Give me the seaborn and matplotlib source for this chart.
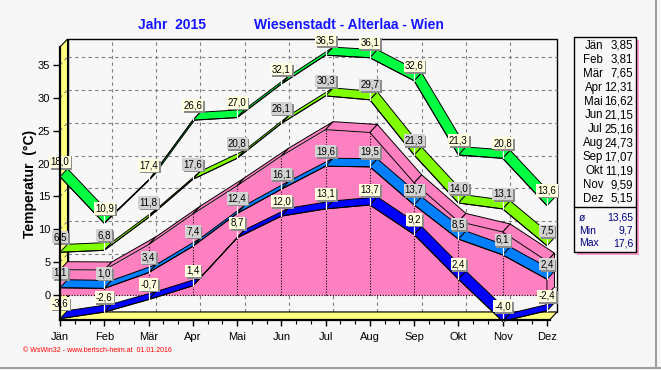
import numpy as np
import pandas as pd
import matplotlib
matplotlib.use('Agg')
import matplotlib.pyplot as plt
import matplotlib.transforms as mtransforms
import matplotlib.patheffects as pe
from matplotlib.patches import Polygon, Rectangle
from matplotlib.lines import Line2D
import seaborn as sns

# ---------------- data ----------------
months = ['Jän', 'Feb', 'Mär', 'Apr', 'Mai', 'Jun', 'Jul', 'Aug', 'Sep', 'Okt', 'Nov', 'Dez']
abs_max = [18.0, 10.9, 17.4, 26.6, 27.0, 32.1, 36.5, 36.1, 32.6, 21.3, 20.8, 13.6]
mean_max = [6.5, 6.8, 11.8, 17.6, 20.8, 26.1, 30.3, 29.7, 21.3, 14.0, 13.1, 7.5]
mean_temp = [3.85, 3.81, 7.65, 12.31, 16.62, 21.15, 25.16, 24.73, 17.07, 11.19, 9.59, 5.15]
mean_min = [1.1, 1.0, 3.4, 7.4, 12.4, 16.1, 19.6, 19.5, 13.7, 8.5, 6.1, 2.4]
abs_min = [-3.6, -2.6, -0.7, 1.4, 8.7, 12.0, 13.1, 13.7, 9.2, 2.4, -4.0, -2.4]
stat_labels = ['ø', 'Min', 'Max']
stat_values = ['13,65', '9,7', '17,6']
y_ticks = [0, 5, 10, 15, 20, 25, 30, 35]

# ---------------- style ----------------
sns.set_theme(style='white')
plt.rcParams['font.family'] = ['Liberation Sans', 'DejaVu Sans']

W, H = 661, 370
BG = '#F7F7F7'
YELLOW = '#FFFF80'
PINK = '#FF80C0'
C_MAX = '#00FF40'
C_MMAX = '#80FF00'
C_MMIN = '#0080FF'
C_MIN = '#0000FF'

fig = plt.figure(figsize=(W / 100, H / 100), dpi=100, facecolor=BG)

X0, XSTEP = 60.0, 44.27
Y0, YSTEP = 295.0, 6.571


def fx(px):
    return px / W


def fy(py):
    return 1 - py / H


ax = fig.add_axes([fx(60), fy(320), (557 - 60) / W, (320 - 39) / H])
ax.set_facecolor('none')
xmax = (557 - X0) / XSTEP
ymin = (Y0 - 320) / YSTEP
ymax = (Y0 - 39) / YSTEP
DX = 7.5 / XSTEP
DY = 8.0 / YSTEP
xr = xmax - DX
x = np.arange(len(months))

# ---------------- box (back wall, left wall, floor) ----------------
ax.add_patch(Rectangle((DX, ymin + DY), xmax - DX, ymax - ymin - DY, fc=BG, ec='black',
                       lw=1.0, zorder=0.5, clip_on=False))
grid_kw = dict(color='#808080', lw=0.8, ls=(0, (3, 3)), clip_on=False)
for v in y_ticks:
    ax.plot([DX, xmax], [v + DY, v + DY], zorder=1, **grid_kw)
for i in range(1, 11):
    ax.plot([i + DX, i + DX], [ymin + DY, ymax], zorder=1, **grid_kw)
ax.add_patch(Polygon([(0, ymin), (0, ymax - DY), (DX, ymax), (DX, ymin + DY)], closed=True,
                     fc=YELLOW, ec='black', lw=0.8, zorder=1.5, clip_on=False))
ax.add_patch(Polygon([(0, ymin), (xr, ymin), (xmax, ymin + DY), (DX, ymin + DY)], closed=True,
                     fc=YELLOW, ec='black', lw=0.8, zorder=1.5, clip_on=False))
for v in y_ticks:
    ax.plot([0, DX], [v, v + DY], zorder=1.6, **grid_kw)

# ---------------- pink mean area ----------------
ax.fill_between(x, 0, mean_temp, color=PINK, lw=0, zorder=1.9)
for i in range(len(x) - 1):
    a, b = mean_temp[i], mean_temp[i + 1]
    ax.add_patch(Polygon([(i, a), (i + 1, b), (i + 1 + DX, b + DY), (i + DX, a + DY)], closed=True,
                         fc=PINK, ec='black', lw=0.7, zorder=2.0, clip_on=False))
n = len(x) - 1
ax.add_patch(Polygon([(n, 0), (n, mean_temp[n]), (n + DX, mean_temp[n] + DY), (n + DX, DY)],
                     closed=True, fc=PINK, ec='black', lw=0.7, zorder=2.0, clip_on=False))
dot_kw = dict(color='black', lw=0.8, ls=(0, (1, 1.5)), zorder=2.2)
ax.plot([0, n], [0, 0], **dot_kw)
for i in range(1, n):
    ax.plot([i, i], [0, mean_temp[i]], **dot_kw)


# ---------------- ribbons ----------------
def ribbon(vals, color, z):
    for i in range(len(vals) - 1):
        a, b = vals[i], vals[i + 1]
        ax.add_patch(Polygon([(i, a), (i + 1, b), (i + 1 + DX, b + DY), (i + DX, a + DY)],
                             closed=True, fc=color, ec='black', lw=0.7, zorder=z,
                             clip_on=False, joinstyle='miter'))
    df = pd.DataFrame({'m': x, 'v': vals})
    sns.lineplot(data=df, x='m', y='v', color='black', lw=0.7, ax=ax, zorder=z + 0.01,
                 legend=False, clip_on=False)


ribbon(mean_min, C_MMIN, 3.0)
ribbon(abs_min, C_MIN, 3.5)
ribbon(mean_max, C_MMAX, 4.0)
ribbon(abs_max, C_MAX, 4.5)

# ---------------- value labels ----------------
t_lab = mtransforms.offset_copy(ax.transData, fig=fig, x=0, y=2, units='dots')
shadow = [pe.withSimplePatchShadow(offset=(1.2, -1.2), shadow_rgbFace='#8C8C8C', alpha=1.0)]


def labels(vals, fc):
    for i, v in enumerate(vals):
        s = f"{v:.1f}".replace('.', ',')
        ax.plot([i, i], [v, v + DY], color='white', lw=0.9, zorder=5.5, clip_on=False)
        t = ax.text(i, v + DY, s, transform=t_lab, ha='center', va='bottom', fontsize=7,
                    color='black', zorder=7,
                    bbox=dict(boxstyle='square,pad=0.12', fc=fc, ec='none'))
        t.get_bbox_patch().set_path_effects(shadow)


labels(abs_max, '#FFFFE0')
labels(mean_max, '#D2D2D2')
labels(mean_min, '#D2D2D2')
labels(abs_min, '#FFFFE0')

# ---------------- axes, ticks ----------------
ax.set_xlim(0, xmax)
ax.set_ylim(ymin, ymax)
ax.set_xlabel('')
ax.set_ylabel('')
for s in ['top', 'right']:
    ax.spines[s].set_visible(False)
ax.spines['left'].set_bounds(ymin, ymax - DY)
ax.spines['bottom'].set_bounds(0, xr)
for s in ['left', 'bottom']:
    ax.spines[s].set_color('black')
    ax.spines[s].set_linewidth(1.6)
    ax.spines[s].set_zorder(8)
ax.set_yticks(y_ticks)
ax.set_yticklabels([str(v) for v in y_ticks])
ax.set_xticks(x)
ax.set_xticklabels(months)
ax.set_xticks(np.arange(0, xr, 1 / 3), minor=True)
ax.tick_params(axis='y', left=True, direction='out', length=5, width=1, colors='black',
               labelsize=8, pad=2)
ax.tick_params(axis='x', bottom=True, direction='out', length=4, width=1, colors='black',
               labelsize=8, pad=5)
ax.tick_params(axis='x', which='minor', bottom=True, direction='out', length=3, width=0.8,
               colors='black')
ax.grid(False)

# ---------------- titles ----------------
fig.text(fx(138), fy(25), 'Jahr  2015', color='#1414FF', fontsize=10, fontweight='bold',
         ha='left', va='center')
fig.text(fx(254), fy(25), 'Wiesenstadt - Alterlaa - Wien', color='#1414FF', fontsize=10,
         fontweight='bold', ha='left', va='center')
fig.text(fx(30), fy(184), 'Temperatur  (°C)', rotation=90, fontsize=10, fontweight='bold',
         ha='center', va='center', color='black')
fig.text(fx(23), fy(351), '© WsWin32 - www.bertsch-heim.at  01.01.2016', color='#FF0000',
         fontsize=5, ha='left', va='center')

# ---------------- side table ----------------
fig.add_artist(Rectangle((fx(577), fy(255)), (636 - 574) / W, (252 - 37) / H,
                         transform=fig.transFigure, fc='#FF99CC', ec='none', zorder=1))
fig.add_artist(Rectangle((fx(574), fy(252)), (636 - 574) / W, (252 - 37) / H,
                         transform=fig.transFigure, fc=BG, ec='black', lw=1, zorder=2))
fig.add_artist(Line2D([fx(574), fx(636)], [fy(207), fy(207)], transform=fig.transFigure,
                      color='black', lw=1, zorder=3))
for k, (m, v) in enumerate(zip(months, mean_temp)):
    yy = fy(46 + k * 13.9)
    fig.text(fx(603), yy, m, ha='right', va='center', fontsize=8.3, color='black', zorder=4)
    fig.text(fx(633), yy, f"{v:.2f}".replace('.', ','), ha='right', va='center', fontsize=8.3,
             color='black', zorder=4)
for k, (lab, val) in enumerate(zip(stat_labels, stat_values)):
    yy = fy(218 + k * 12.6)
    fig.text(fx(579), yy, lab, ha='left', va='center', fontsize=7.5, color='#000080', zorder=4)
    fig.text(fx(633), yy, val, ha='right', va='center', fontsize=7.5, color='#000080', zorder=4)

# window frame
fig.add_artist(Line2D([0, 1], [fy(368), fy(368)], transform=fig.transFigure, color='#A0A0A0', lw=1.5))
fig.add_artist(Line2D([fx(656), fx(656)], [fy(368), 1], transform=fig.transFigure, color='#A0A0A0', lw=1.5))

fig.savefig('out.png', dpi=100, facecolor=BG)
